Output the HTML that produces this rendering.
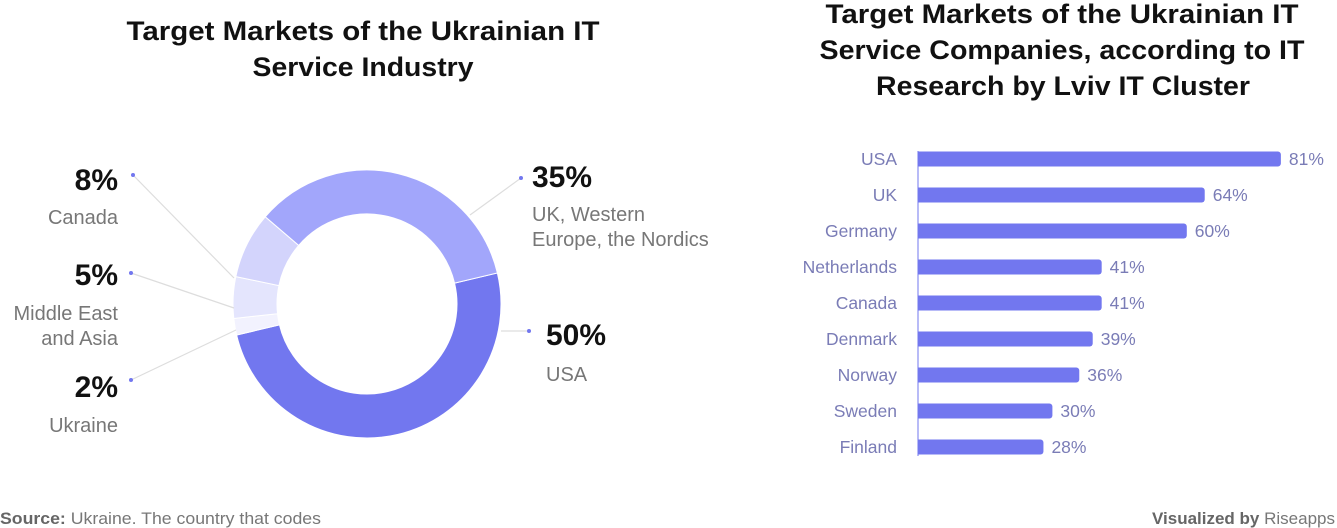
<!DOCTYPE html>
<html><head><meta charset="utf-8">
<style>
body{margin:0;background:#fff;width:1337px;height:528px;overflow:hidden;font-family:"Liberation Sans",sans-serif;}
svg{display:block}
</style></head>
<body>
<svg id="chart" width="1337" height="528">
  <text text-anchor="middle" font-size="27" font-weight="bold" fill="#111"><tspan x="363" y="40" textLength="473" lengthAdjust="spacingAndGlyphs">Target Markets of the Ukrainian IT</tspan><tspan x="363" y="76" textLength="221" lengthAdjust="spacingAndGlyphs">Service Industry</tspan></text>
  <text text-anchor="middle" font-size="27" font-weight="bold" fill="#111"><tspan x="1062" y="23" textLength="473" lengthAdjust="spacingAndGlyphs">Target Markets of the Ukrainian IT</tspan><tspan x="1062" y="59" textLength="485" lengthAdjust="spacingAndGlyphs">Service Companies, according to IT</tspan><tspan x="1063" y="95" textLength="374" lengthAdjust="spacingAndGlyphs">Research by Lviv IT Cluster</tspan></text>
  <g id="donut"></g>
  <g id="bars"></g>
  <text x="0" y="524" font-size="17" fill="#777" textLength="321" lengthAdjust="spacingAndGlyphs"><tspan font-weight="bold" fill="#666">Source:</tspan> Ukraine. The country that codes</text>
  <text x="1335" y="524" text-anchor="end" font-size="17" fill="#777"><tspan font-weight="bold" fill="#666">Visualized by</tspan> Riseapps</text>
</svg>
<script>
const donutLabels = ["USA","Ukraine","Middle East and Asia","Canada","UK, Western Europe, the Nordics"];
const donutValues = [50,2,5,8,35];
const donutColors = ["#7277ef","#f2f2fe","#e4e5fd","#d3d4fc","#a2a6fb"];
const barCategories = ["USA","UK","Germany","Netherlands","Canada","Denmark","Norway","Sweden","Finland"];
const barValues = [81,64,60,41,41,39,36,30,28];

const NS="http://www.w3.org/2000/svg";
function mk(tag,attrs,parent){const e=document.createElementNS(NS,tag);for(const k in attrs)e.setAttribute(k,attrs[k]);parent.appendChild(e);return e;}

// Donut
const dg=document.getElementById('donut');
const cx=367,cy=304,R=134,r=90,start=-13.4;
const total=donutValues.reduce((a,b)=>a+b,0);
let ang=start;
function pt(a,rad){const t=a*Math.PI/180;return [cx+rad*Math.cos(t),cy+rad*Math.sin(t)];}
donutValues.forEach((v,i)=>{
  const a0=ang,a1=ang+v/total*360;ang=a1;
  const large=(a1-a0)>180?1:0;
  const p0=pt(a0,R),p1=pt(a1,R),q1=pt(a1,r),q0=pt(a0,r);
  const p=mk('path',{d:`M${p0[0]},${p0[1]} A${R},${R} 0 ${large} 1 ${p1[0]},${p1[1]} L${q1[0]},${q1[1]} A${r},${r} 0 ${large} 0 ${q0[0]},${q0[1]} Z`,fill:donutColors[i],stroke:'#fff','stroke-width':1},dg);
  
  
});
const leaders=[
 {dot:[529,331],end:[501,331],lx:546,ly:345,anchor:"start",lines:["USA"],ty:381},
 {dot:[131,380],end:[236,330],lx:118,ly:397,anchor:"end",lines:["Ukraine"],ty:432},
 {dot:[131,273],end:[234,308],lx:118,ly:285,anchor:"end",lines:["Middle East","and Asia"],ty:320},
 {dot:[133,175],end:[234,278],lx:118,ly:190,anchor:"end",lines:["Canada"],ty:224},
 {dot:[521,178],end:[470,215],lx:532,ly:187,anchor:"start",lines:["UK, Western","Europe, the Nordics"],ty:221}
];
leaders.forEach((L,i)=>{
  const ln=mk('line',{x1:L.dot[0],y1:L.dot[1],x2:L.end[0],y2:L.end[1],stroke:'#ddd','stroke-width':1.2},dg);
  
  
  const c=mk('circle',{cx:L.dot[0],cy:L.dot[1],r:2,fill:'#7277ef'},dg);
  
  
  const t=mk('text',{x:L.lx,y:L.ly,'text-anchor':L.anchor,'font-size':30,'font-weight':'bold',fill:'#111'},dg);
  t.textContent=Math.round(donutValues[i])+'%';
  
  
  L.lines.forEach((s,j)=>{
    const n=mk('text',{x:L.lx,y:L.ty+j*25,'text-anchor':L.anchor,'font-size':20,fill:'#777'},dg);
    n.textContent=s;
    
    
  });
});

// Bars
const bg=document.getElementById('bars');
const x0=918,pxPer=4.48,y0=159,step=36,bh=15;
const xs=v=>x0+v*pxPer, ys=i=>y0+i*step;
const ax=mk('line',{x1:x0,y1:151,x2:x0,y2:456,stroke:'#7277ef','stroke-width':1},bg);


barCategories.forEach((c,i)=>{
  const y=ys(i),w=xs(barValues[i])-x0;
  const b=mk('path',{d:`M${x0},${y-bh/2} h${w-3} a3,3 0 0 1 3,3 v${bh-6} a3,3 0 0 1 -3,3 h${-(w-3)} Z`,fill:'#7277ef'},bg);
  
  
  const l=mk('text',{x:897,y:y+6,'text-anchor':'end','font-size':17.5,fill:'#7a7cb6'},bg);
  l.textContent=c;
  
  
  const v=mk('text',{x:xs(barValues[i])+8,y:y+6,'font-size':17.5,fill:'#7a7cb6'},bg);
  v.textContent=barValues[i]+'%';
  
  
});
</script>
</body></html>
